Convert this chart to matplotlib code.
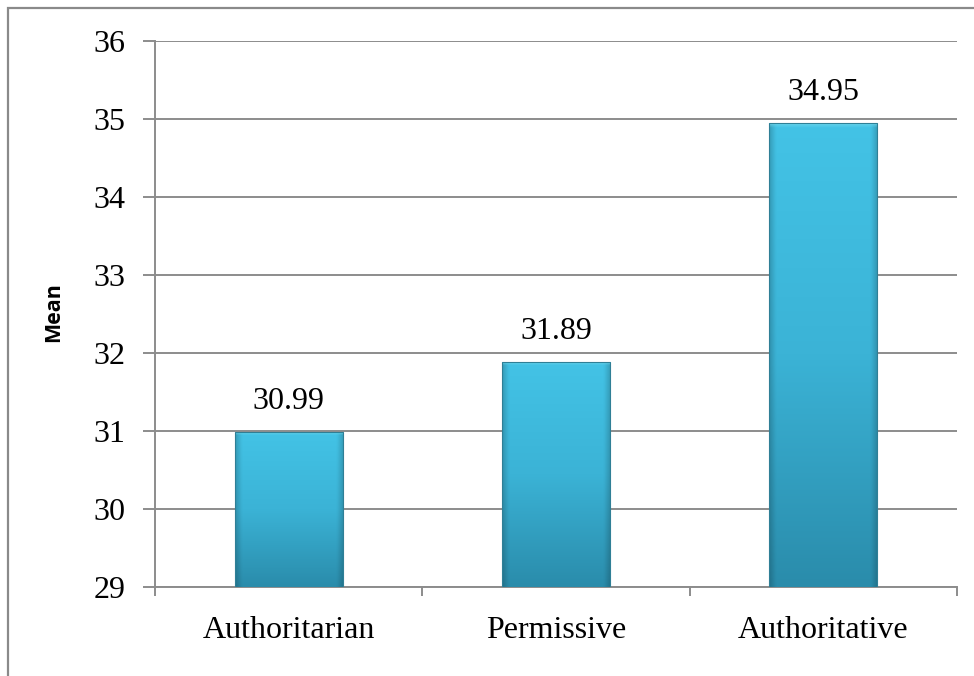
import numpy as np
import matplotlib.pyplot as plt
from matplotlib.patches import Rectangle
from matplotlib.colors import LinearSegmentedColormap

# parenting style means
styles = ['Authoritarian', 'Permissive', 'Authoritative']
means = [30.99, 31.89, 34.95]
y_ticks = [29, 30, 31, 32, 33, 34, 35, 36]

grid_col = '#8c8c8c'
serif = 'Liberation Serif'

fig = plt.figure(figsize=(9.74, 6.76), dpi=100)
fig.patch.set_facecolor('white')

# frame around the whole chart (open to the right and bottom)
fig.add_artist(Rectangle((8 / 974, -0.05), 1.2, 1 - 8 / 676 + 0.05,
                         transform=fig.transFigure, fill=False,
                         edgecolor='#8a8a8a', linewidth=1.6))

ax = fig.add_axes([155 / 974, 1 - 587 / 676, (957 - 155) / 974, (587 - 41) / 676])
x = np.arange(len(styles))
ax.set_xlim(-0.5, len(styles) - 0.5)
ax.set_ylim(29, 36)

# vertical gradient, darkened at the side edges for a bevelled look
cmap = LinearSegmentedColormap.from_list('bar', ['#2a8cab', '#3bb3d6', '#43c3e6'])
bars = ax.bar(x, [m - 29 for m in means], bottom=29, width=0.405,
              color='none', edgecolor='none', zorder=3)
for b in bars:
    x0, y0 = b.get_x(), b.get_y()
    w, h = b.get_width(), b.get_height()
    ny, nx = 200, 60
    v = np.linspace(0, 1, ny)[:, None]
    u = np.linspace(0, 1, nx)[None, :]
    edge = np.clip(np.minimum(u, 1 - u) / 0.06, 0, 1)
    img = cmap(np.repeat(v, nx, axis=1))
    img[..., :3] *= (0.82 + 0.18 * edge)[..., None]
    # light rim along the top edge
    top_px = 0.045 / h * ny
    rim = np.clip((ny - 1 - np.arange(ny)) / max(top_px, 1), 0, 1)[:, None]
    img[..., :3] = img[..., :3] * rim[..., None] + np.array([0.45, 0.85, 0.93]) * (1 - rim[..., None])
    im = ax.imshow(img, extent=[x0, x0 + w, y0, y0 + h], origin='lower',
                   aspect='auto', zorder=3, interpolation='bilinear')
    im.set_clip_path(b)
    ax.add_patch(Rectangle((x0, y0), w, h, fill=False, edgecolor='#2f7f96',
                           linewidth=0.8, zorder=4))

for xi, m in zip(x, means):
    ax.text(xi, m + 0.2, f'{m:.2f}', ha='center', va='bottom',
            fontsize=23, family=serif, color='black')

ax.set_yticks(y_ticks)
ax.set_yticklabels([str(t) for t in y_ticks])
ax.yaxis.grid(True, color=grid_col, linewidth=1.4, zorder=0)
ax.set_axisbelow(True)

ax.set_xticks(x)
ax.set_xticklabels(styles)
ax.set_xticks(np.arange(len(styles) + 1) - 0.5, minor=True)
ax.tick_params(axis='x', which='major', length=0, pad=21, labelsize=23)
ax.tick_params(axis='x', which='minor', length=6.5, width=1.4, color=grid_col)
ax.tick_params(axis='y', length=8.5, width=1.4, color=grid_col, pad=13, labelsize=23)
for lab in ax.get_xticklabels() + ax.get_yticklabels():
    lab.set_family(serif)

for side in ['top', 'right']:
    ax.spines[side].set_visible(False)
for side in ['left', 'bottom']:
    ax.spines[side].set_color(grid_col)
    ax.spines[side].set_linewidth(1.4)

ax.set_ylabel('Mean', fontsize=15.5, fontweight='bold', family='Open Sans')
ax.yaxis.set_label_coords(-0.113, 0.504)

fig.savefig('out.png', dpi=100)
